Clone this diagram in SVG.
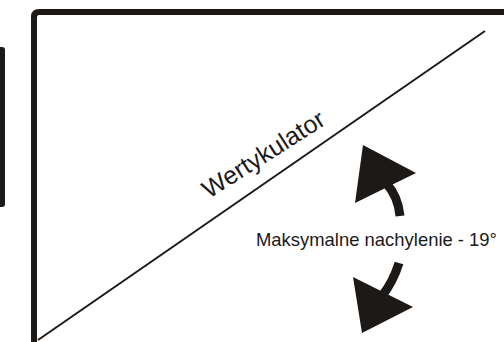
<svg xmlns="http://www.w3.org/2000/svg" width="504" height="342" viewBox="0 0 504 342">
<style>
.lbl{font-family:"Liberation Sans",Arial,sans-serif;fill:#1a1a1a}
.dark{fill:#1c1917}
.stem{fill:none;stroke:#1c1917;stroke-width:9}
</style>
<rect width="504" height="342" fill="#ffffff"/>
<g id="side-bar"><rect x="-6" y="47" width="11" height="160" rx="3" class="dark"/></g>
<g id="frame">
<path d="M34,350 V17 Q34,12 39,12 H520" fill="none" stroke="#1c1917" stroke-width="6"/>
</g>
<g id="connectors">
<line x1="38" y1="340" x2="485" y2="31" stroke="#1c1917" stroke-width="2"/>
</g>
<g id="wertykulator"><text class="lbl" font-size="25" transform="translate(209,199) rotate(-32.5)">Wertykulator</text></g>
<g id="arrow-up">
<path class="stem" d="M386,183 Q398,196 400,216"/>
<polygon class="dark" points="363,145 416,173 355,203"/>
</g>
<g id="arrow-down">
<path class="stem" d="M399,263 Q393,282 382,296"/>
<polygon class="dark" points="353,277 413,307 362,333"/>
</g>
<g id="label"><text class="lbl" x="256" y="246" font-size="18.5" textLength="241" lengthAdjust="spacingAndGlyphs">Maksymalne nachylenie - 19°</text></g>
</svg>
